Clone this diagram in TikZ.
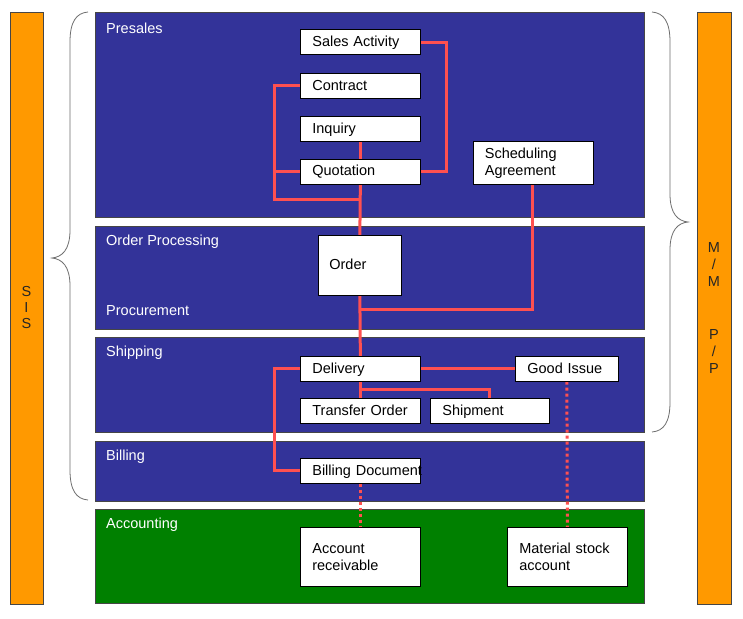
\documentclass[tikz,border=0pt]{standalone}
\usepackage{fontspec}
\setmainfont{Liberation Sans}
\usetikzlibrary{calc}
\definecolor{bandblue}{RGB}{51,51,153}
\definecolor{bandgreen}{RGB}{0,128,0}
\definecolor{barorange}{RGB}{255,153,0}
\definecolor{linkred}{RGB}{255,80,80}
\definecolor{edgegray}{RGB}{70,70,70}
\definecolor{bracegray}{RGB}{110,110,110}
\pgfdeclarelayer{bands}
\pgfdeclarelayer{lines}
\pgfsetlayers{bands,lines,main}
\newcommand\diagfont{\fontsize{14.5}{17}\selectfont}
\tikzset{
  box/.style={draw=black, fill=white, line width=0.7pt, anchor=north west,
    inner xsep=12pt, inner ysep=0pt, align=left, font=\diagfont, text=black},
  onebox/.style={box, text width=96pt, minimum height=25pt, text height=9pt, text depth=0pt},
  band/.style={draw=edgegray, line width=0.6pt},
  bandlabel/.style={anchor=west, inner sep=0pt, font=\diagfont, text=white},
  bar/.style={draw=edgegray, fill=barorange, line width=0.6pt, align=center,
    inner sep=0pt, text=black!85},
  conn/.style={draw=linkred, line width=3pt},
  dotconn/.style={conn, dash pattern=on 3pt off 3pt},
  bracepath/.style={draw=bracegray, line width=0.8pt},
}
\begin{document}
\begin{tikzpicture}[x=1pt,y=-1pt]
\useasboundingbox (0,0) rectangle (743,618);

% bands
\begin{pgfonlayer}{bands}
\fill[white] (0,0) rectangle (743,618);
\filldraw[band, fill=bandblue] (95,12) rectangle (644,217);
\filldraw[band, fill=bandblue] (95,226) rectangle (644,329);
\filldraw[band, fill=bandblue] (95,337) rectangle (644,432);
\filldraw[band, fill=bandblue] (95,441) rectangle (644,501);
\filldraw[band, fill=bandgreen] (95,509) rectangle (644,603);
\end{pgfonlayer}

\node[bandlabel] (lpre) at (106,28) {Presales};
\node[bandlabel] (lord) at (106,242) {Order Processing};
\node[bandlabel] (lproc) at (106,311) {Procurement};
\node[bandlabel] (lship) at (106,353) {Shipping};
\node[bandlabel] (lbill) at (106,457) {Billing};
\node[bandlabel] (lacc) at (106,525) {Accounting};

% side bars
\node[bar, minimum width=33pt, minimum height=592pt,
  font=\fontsize{14.5}{16}\selectfont] (sis) at (26.5,308) {S\\I\\S};
\node[bar, minimum width=34pt, minimum height=592pt,
  font=\fontsize{14.5}{17}\selectfont] (mmpp) at (714,308) {M\\/\\M\\[36pt]P\\/\\P};

% braces
\draw[bracepath] (88,12) .. controls (76,13) and (70,22) .. (70,42) -- (70,230)
  .. controls (70,250) and (62,257) .. (52,258)
  .. controls (62,259) and (70,266) .. (70,286) -- (70,470)
  .. controls (70,490) and (76,499) .. (88,500);
\draw[bracepath] (652,12) .. controls (664,13) and (670,22) .. (670,42) -- (670,194)
  .. controls (670,214) and (678,221) .. (688,222)
  .. controls (678,223) and (670,230) .. (670,250) -- (670,402)
  .. controls (670,422) and (664,431) .. (652,432);

% process nodes
\node[onebox] (sales) at (300,29.5) {Sales Activity};
\node[onebox] (contract) at (300,73) {Contract};
\node[onebox] (inquiry) at (300,116) {Inquiry};
\node[onebox] (quot) at (300,158.5) {Quotation};
\node[box, text width=96pt, minimum height=43pt] (sched) at (472.5,141) {Scheduling\\Agreement};
\node[onebox, text width=61pt, minimum height=60pt, inner xsep=11pt] (order) at (318,235) {Order};
\node[onebox] (deliv) at (300,356) {Delivery};
\node[onebox, text width=79pt] (gi) at (515,356) {Good Issue};
\node[onebox] (tro) at (300,398) {Transfer Order};
\node[onebox, text width=95pt] (ship) at (430,398) {Shipment};
\node[onebox] (bill) at (300,458) {\mbox{Billing Document}};
\node[box, text width=96pt, minimum height=59pt] (ar) at (300,527) {Account\\receivable};
\node[box, text width=96pt, minimum height=59pt] (msa) at (507,527) {Material stock\\account};

% connectors
\begin{pgfonlayer}{lines}
\coordinate (qj) at ($(quot.south)+(0,15)$);
\coordinate (oj) at ($(order.south)+(0,14)$);
\coordinate (dj) at ($(deliv.south)+(0,8)$);
\draw[conn] (sales.east) -- ++(26,0) |- (quot.east);
\draw[conn] (contract.west) -- ++(-26,0) |- (qj);
\draw[conn] (quot.west) -- ++(-26,0);
\draw[conn] (inquiry.south) -- (quot.north);
\draw[conn] (quot.south) -- (order.north);
\draw[conn] (sched.south) |- (oj);
\draw[conn] (order.south) -- (deliv.north);
\draw[conn] (deliv.east) -- (gi.west);
\draw[conn] (deliv.south) -- (tro.north);
\draw[conn] (dj) -| (ship.north);
\draw[conn] (deliv.west) -- ++(-26,0) |- (bill.west);
\draw[dotconn] (bill.south) -- (ar.north);
\draw[dotconn] (gi.south) -- (msa.north);
\end{pgfonlayer}
\end{tikzpicture}
\end{document}
